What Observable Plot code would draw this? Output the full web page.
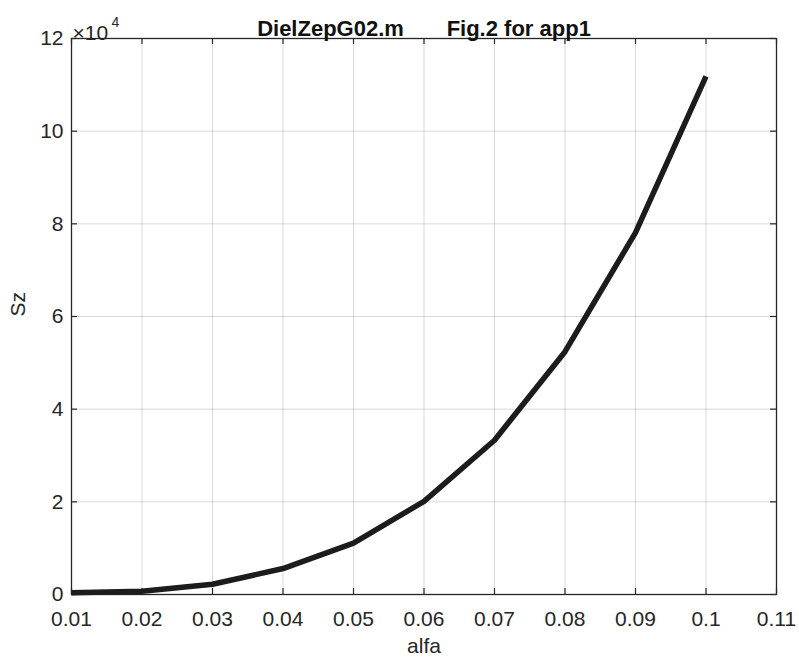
<!DOCTYPE html>
<html>
<head>
<meta charset="utf-8">
<script src="https://cdn.jsdelivr.net/npm/d3@7"></script>
<script src="https://cdn.jsdelivr.net/npm/@observablehq/plot@0.6"></script>
<style>
  html, body { margin: 0; padding: 0; background: #fff; }
  svg text { white-space: pre; }
</style>
</head>
<body>
<div id="chart"></div>
<script>
const alfa = [0.01, 0.02, 0.03, 0.04, 0.05, 0.06, 0.07, 0.08, 0.09, 0.10];
const sz = [400, 700, 2200, 5600, 11100, 20100, 33300, 52400, 78100, 111800];
const xTicks = [0.01, 0.02, 0.03, 0.04, 0.05, 0.06, 0.07, 0.08, 0.09, 0.10, 0.11];
const xTickLabels = ["0.01", "0.02", "0.03", "0.04", "0.05", "0.06", "0.07", "0.08", "0.09", "0.1", "0.11"];
const yTicks = [0, 20000, 40000, 60000, 80000, 100000, 120000];
const yTickLabels = ["0", "2", "4", "6", "8", "10", "12"];
const title = "DielZepG02.m\u00a0\u00a0\u00a0\u00a0\u00a0\u00a0\u00a0Fig.2 for app1";
const xLabel = "alfa";
const yLabel = "Sz";
const expBase = "\u00d710";
const expPower = "4";

const data = alfa.map((a, i) => ({alfa: a, sz: sz[i]}));
const W = 799, H = 664;
const mT = 38, mB = 70, mL = 71, mR = 23;
const plotH = H - mT - mB, plotW = W - mL - mR;
const tk = 6;
const axisColor = "#262626";
const font = "'Liberation Sans', Arial, Helvetica, sans-serif";

const chart = Plot.plot({
  width: W, height: H,
  marginTop: mT, marginBottom: mB, marginLeft: mL, marginRight: mR,
  style: {fontFamily: font, fontSize: "21px", color: axisColor, background: "#fff"},
  x: {domain: [0.01, 0.11]},
  y: {domain: [0, 120000]},
  marks: [
    Plot.gridX(xTicks, {stroke: "#000", strokeOpacity: 0.15, strokeWidth: 1}),
    Plot.gridY(yTicks, {stroke: "#000", strokeOpacity: 0.15, strokeWidth: 1}),
    Plot.axisX({ticks: xTicks, tickSize: 0, tickPadding: 17, tickFormat: (d, i) => xTickLabels[i], label: null, fill: axisColor, fontSize: 21}),
    Plot.axisY({ticks: yTicks, tickSize: 0, tickPadding: 8, tickFormat: (d, i) => yTickLabels[i], label: null, fill: axisColor, fontSize: 21}),
    Plot.tickX(xTicks, {x: d => d, insetTop: plotH - tk, stroke: axisColor, strokeWidth: 1.2}),
    Plot.tickX(xTicks, {x: d => d, insetBottom: plotH - tk, stroke: axisColor, strokeWidth: 1.2}),
    Plot.tickY(yTicks, {y: d => d, insetRight: plotW - tk, stroke: axisColor, strokeWidth: 1.2}),
    Plot.tickY(yTicks, {y: d => d, insetLeft: plotW - tk, stroke: axisColor, strokeWidth: 1.2}),
    Plot.frame({stroke: axisColor, strokeWidth: 1.3}),
    Plot.line(data, {x: "alfa", y: "sz", stroke: "#1c1c1c", strokeWidth: 5.5, strokeLinejoin: "round", strokeLinecap: "butt"}),
    Plot.text([title], {frameAnchor: "top", dy: -18, fontWeight: "bold", fontSize: 22, fill: "#111"}),
    Plot.text([xLabel], {frameAnchor: "bottom", dy: 58, fontSize: 21, fill: axisColor}),
    Plot.text([yLabel], {frameAnchor: "left", dx: -53, rotate: -90, fontSize: 21, fill: axisColor}),
    Plot.text([expBase], {frameAnchor: "top-left", dx: 1, dy: -13, textAnchor: "start", fontSize: 21, fill: axisColor}),
    Plot.text([expPower], {frameAnchor: "top-left", dx: 40, dy: -21, textAnchor: "start", fontSize: 14, fill: axisColor})
  ]
});
document.getElementById("chart").appendChild(chart);
</script>
</body>
</html>
